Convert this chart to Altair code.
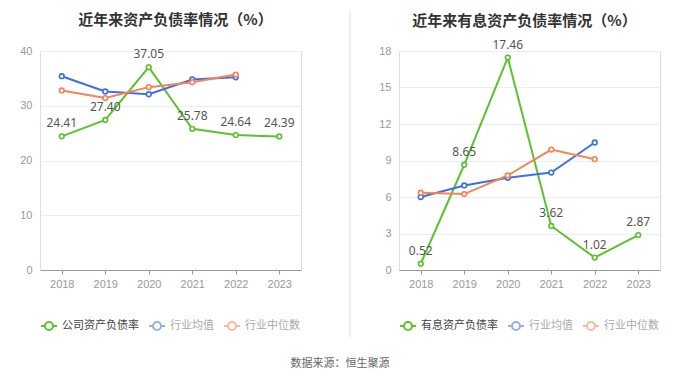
import altair as alt
import pandas as pd

years = ["2018", "2019", "2020", "2021", "2022", "2023"]
company_debt = [24.41, 27.40, 37.05, 25.78, 24.64, 24.39]
industry_avg_debt = [35.4, 32.6, 32.1, 34.8, 35.2]
industry_med_debt = [32.8, 31.4, 33.4, 34.3, 35.7]
company_int = [0.52, 8.65, 17.46, 3.62, 1.02, 2.87]
industry_avg_int = [6.0, 6.95, 7.58, 8.01, 10.48]
industry_med_int = [6.35, 6.24, 7.77, 9.9, 9.11]

GREEN = "#5bc22b"
BLUE = "#3d6fe6"
ORANGE = "#fb8152"
SYMBOL = "M-1,0L-0.5,0M0.5,0L1,0M-0.5,0A0.5,0.5,0,1,1,0.5,0A0.5,0.5,0,1,1,-0.5,0"


def build_df(name, comp, avg, med):
    rows = []
    for i, y in enumerate(years):
        rows.append({"year": y, "series": name, "value": comp[i], "label": f"{comp[i]:.2f}"})
    for i, v in enumerate(avg):
        rows.append({"year": years[i], "series": "行业均值", "value": v, "label": ""})
    for i, v in enumerate(med):
        rows.append({"year": years[i], "series": "行业中位数", "value": v, "label": ""})
    return pd.DataFrame(rows)


def panel(df, name, title, ymax, ticks, dx, title_offset, legend_offset, divider):
    domain = [name, "行业均值", "行业中位数"]
    color = alt.Color(
        "series:N",
        scale=alt.Scale(domain=domain, range=[GREEN, BLUE, ORANGE]),
        legend=alt.Legend(
            orient="bottom",
            direction="horizontal",
            title=None,
            symbolType=SYMBOL,
            symbolSize=256,
            symbolStrokeWidth=2,
            symbolFillColor="white",
            symbolOpacity=alt.ExprRef(expr=f"datum.value == '{name}' ? 1 : 0.55"),
            labelColor=alt.ExprRef(expr=f"datum.value == '{name}' ? '#444' : '#aaa'"),
            labelFont="Noto Sans CJK SC",
            labelFontSize=11,
            columnPadding=6,
            offset=legend_offset,
        ),
    )
    x = alt.X(
        "year:N",
        sort=years,
        scale=alt.Scale(type="point", padding=0.5, domain=years),
        axis=alt.Axis(
            title=None, labelAngle=0, labelColor="#999", labelFontSize=11,
            domainColor="#999", tickColor="#999", tickSize=4, labelPadding=4,
            grid=False,
        ),
    )
    y = alt.Y(
        "value:Q",
        scale=alt.Scale(domain=[0, ymax], nice=False),
        axis=alt.Axis(
            title=None, values=ticks, labelColor="#999", labelFontSize=11,
            domain=False, ticks=False, gridColor="#e9edf5", labelPadding=8,
        ),
    )
    base = alt.Chart(df)
    lines = base.mark_line(strokeWidth=2).encode(x=x, y=y, color=color, order=alt.Order("year:N"))
    points = base.mark_point(filled=True, fill="white", size=22, strokeWidth=1.6, opacity=1).encode(
        x=x, y=y, stroke=alt.Stroke("series:N", scale=alt.Scale(domain=domain, range=[GREEN, BLUE, ORANGE]), legend=None)
    )
    labels = base.transform_filter(f"datum.series == '{name}'").mark_text(
        dy=-13, fontSize=12, color="#555", font="Noto Sans"
    ).encode(x=x, y=y, text="label:N")
    layers = [lines, points, labels]
    if divider:
        layers.insert(0, base.mark_rule(color="#efefef", strokeWidth=1).encode(
            x=alt.value(310), y=alt.value(-41), y2=alt.value(286)
        ))
    return alt.layer(*layers).properties(
        width=261,
        height=219,
        title=alt.TitleParams(
            title, anchor="middle", fontSize=15, fontWeight="bold", color="#333",
            font="Noto Sans CJK SC", dx=dx, offset=title_offset,
        ),
    ).resolve_scale(color="independent", stroke="independent")


left = panel(build_df("公司资产负债率", company_debt, industry_avg_debt, industry_med_debt),
             "公司资产负债率", "近年来资产负债率情况（%）", 40, [0, 10, 20, 30, 40], 5, -18, 28, True)
right = panel(build_df("有息资产负债率", company_int, industry_avg_int, industry_med_int),
              "有息资产负债率", "近年来有息资产负债率情况（%）", 18, [0, 3, 6, 9, 12, 15, 18], -5, 10, 28, False)

chart = alt.hconcat(left, right, spacing=27).resolve_scale(
    color="independent", stroke="independent", y="independent", x="independent"
).properties(
    padding={"left": 11, "top": 1, "right": 0, "bottom": 0},
    title=alt.TitleParams(
        "数据来源：恒生聚源", orient="bottom", anchor="middle", fontSize=11,
        fontWeight="normal", color="#666", font="Noto Sans CJK SC", offset=20,
    ),
).configure_view(stroke=None).configure(background="white")

chart.save("out.html", embed_options={"renderer": "svg", "actions": False})
